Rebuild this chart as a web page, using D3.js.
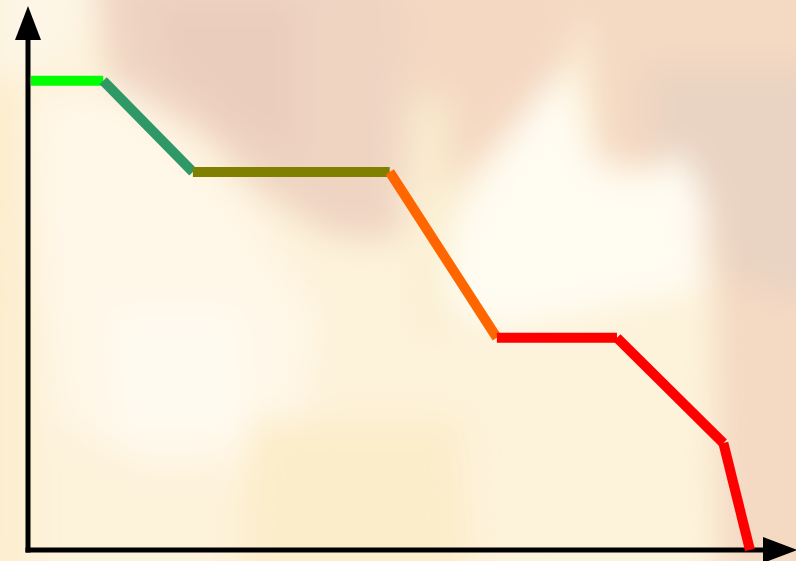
<!DOCTYPE html>
<html>
<head>
<meta charset="utf-8">
<script src="https://cdn.jsdelivr.net/npm/d3@7"></script>
<style>
  html, body { margin: 0; padding: 0; background: #fff; }
  svg { display: block; }
</style>
</head>
<body>
<svg width="796" height="561"></svg>
<script>
// datos de la curva (puntos de quiebre) y color de cada tramo
const xValues = [0, 9.5, 21.3, 47.2, 61.3, 77.1, 91.1, 94.6];
const yValues = [86.9, 86.9, 70, 70, 39.3, 39.3, 19.8, 0];
const segmentColors = ['#00ff00', '#2e9966', '#808000', '#ff6600', '#ff0000', '#ff0000', '#ff0000'];

const svg = d3.select('svg');
const width = +svg.attr('width');
const height = +svg.attr('height');

// escalas
const x = d3.scaleLinear().domain([0, 100]).range([31, 791]);
const y = d3.scaleLinear().domain([0, 100]).range([550, 10]);

// fondo difuminado (imagen de llamas, aproximada con manchas)
const defs = svg.append('defs');
defs.append('filter').attr('id', 'blur')
  .attr('x', '-20%').attr('y', '-20%').attr('width', '140%').attr('height', '140%')
  .append('feGaussianBlur').attr('stdDeviation', 16);

svg.append('rect').attr('width', width).attr('height', height).attr('fill', '#fdf2da');

const bg = svg.append('g').attr('filter', 'url(#blur)');
const blobs = [
  { d: 'M95,-30 L410,-30 L400,240 L330,235 L260,190 L200,130 L110,80 Z', fill: '#efd4c2' },
  { d: 'M150,0 L300,0 L300,160 L220,120 L160,60 Z', fill: '#ebcdbd' },
  { d: 'M400,-30 L590,-30 L570,60 L520,120 L460,180 L420,220 Z', fill: '#f4d8c2' },
  { d: 'M580,-30 L830,-30 L830,580 L720,580 L715,300 L700,200 L660,170 L600,160 Z', fill: '#f4d9c3' },
  { d: 'M650,70 L830,70 L830,300 L730,280 L705,190 L650,150 Z', fill: '#e9d3c2' },
  { d: 'M0,-30 L95,-30 L70,60 L0,80 Z', fill: '#fdf6e6' },
  { d: 'M30,100 L120,90 L240,200 L320,320 L290,460 L150,470 L60,420 L40,250 Z', fill: '#fff7e8' },
  { d: 'M110,310 L240,310 L250,430 L120,440 Z', fill: '#fffaf0' },
  { d: 'M420,290 L470,200 L530,110 L563,70 L590,160 L620,178 L660,170 L680,150 L705,200 L700,290 L600,310 L500,330 Z', fill: '#fffcf2' },
  { d: 'M422,100 L448,100 L448,330 L422,330 Z', fill: '#faefd0' },
  { d: 'M250,420 L460,420 L470,580 L240,580 Z', fill: '#fcedca' },
  { d: 'M-30,80 L22,80 L22,580 L-30,580 Z', fill: '#fcedcc' },
  { d: 'M560,330 L700,330 L700,560 L560,560 Z', fill: '#fdf3da' }
];
bg.selectAll('path').data(blobs).join('path')
  .attr('d', d => d.d)
  .attr('fill', d => d.fill);

// flechas de los ejes
defs.append('marker').attr('id', 'arrow')
  .attr('viewBox', '0 0 10 10').attr('refX', 0).attr('refY', 5)
  .attr('preserveAspectRatio', 'none')
  .attr('markerWidth', 6.8).attr('markerHeight', 5.2)
  .attr('markerUnits', 'strokeWidth')
  .attr('orient', 'auto')
  .append('path').attr('d', 'M0,0 L10,5 L0,10 Z').attr('fill', '#000');

// eje Y
svg.append('line')
  .attr('x1', 28).attr('y1', y(0) + 2.5)
  .attr('x2', 28).attr('y2', 40)
  .attr('stroke', '#000').attr('stroke-width', 5)
  .attr('marker-end', 'url(#arrow)');

// eje X
svg.append('line')
  .attr('x1', 25.5).attr('y1', y(0))
  .attr('x2', 763).attr('y2', y(0))
  .attr('stroke', '#000').attr('stroke-width', 5)
  .attr('marker-end', 'url(#arrow)');

// tramos de la curva
const segments = d3.range(xValues.length - 1).map(i => ({
  x1: xValues[i], y1: yValues[i],
  x2: xValues[i + 1], y2: yValues[i + 1],
  color: segmentColors[i]
}));

svg.append('g').selectAll('line').data(segments).join('line')
  .attr('x1', d => x(d.x1)).attr('y1', d => y(d.y1))
  .attr('x2', d => x(d.x2)).attr('y2', d => y(d.y2))
  .attr('stroke', d => d.color)
  .attr('stroke-width', 10)
  .attr('stroke-linecap', 'butt');
</script>
</body>
</html>
